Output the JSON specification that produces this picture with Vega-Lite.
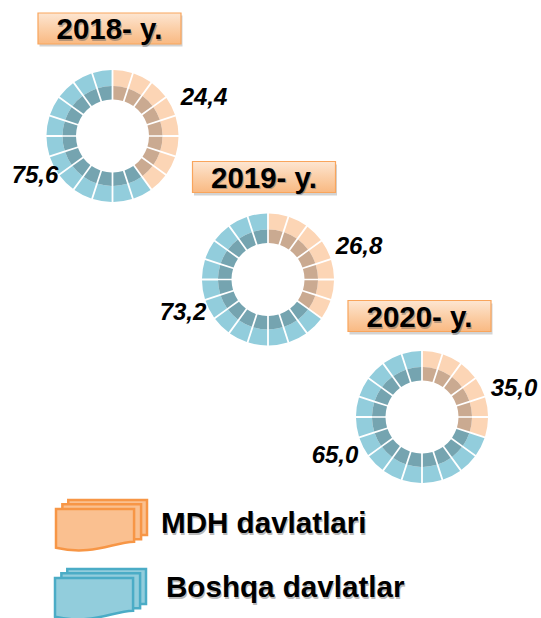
{"$schema":"https://vega.github.io/schema/vega-lite/v6.json","width":541,"height":618,"autosize":{"type":"fit","contains":"padding"},"padding":0,"background":"white","config":{"view":{"stroke":null}},"datasets":{"segments":[{"year":2018,"group":"MDH","seg":0,"segEnd":1},{"year":2018,"group":"MDH","seg":1,"segEnd":2},{"year":2018,"group":"MDH","seg":2,"segEnd":3},{"year":2018,"group":"MDH","seg":3,"segEnd":4},{"year":2018,"group":"MDH","seg":4,"segEnd":5},{"year":2018,"group":"MDH","seg":5,"segEnd":6},{"year":2018,"group":"MDH","seg":6,"segEnd":7},{"year":2018,"group":"MDH","seg":7,"segEnd":8},{"year":2018,"group":"Boshqa","seg":8,"segEnd":9},{"year":2018,"group":"Boshqa","seg":9,"segEnd":10},{"year":2018,"group":"Boshqa","seg":10,"segEnd":11},{"year":2018,"group":"Boshqa","seg":11,"segEnd":12},{"year":2018,"group":"Boshqa","seg":12,"segEnd":13},{"year":2018,"group":"Boshqa","seg":13,"segEnd":14},{"year":2018,"group":"Boshqa","seg":14,"segEnd":15},{"year":2018,"group":"Boshqa","seg":15,"segEnd":16},{"year":2018,"group":"Boshqa","seg":16,"segEnd":17},{"year":2018,"group":"Boshqa","seg":17,"segEnd":18},{"year":2018,"group":"Boshqa","seg":18,"segEnd":19},{"year":2018,"group":"Boshqa","seg":19,"segEnd":20},{"year":2019,"group":"MDH","seg":0,"segEnd":1},{"year":2019,"group":"MDH","seg":1,"segEnd":2},{"year":2019,"group":"MDH","seg":2,"segEnd":3},{"year":2019,"group":"MDH","seg":3,"segEnd":4},{"year":2019,"group":"MDH","seg":4,"segEnd":5},{"year":2019,"group":"MDH","seg":5,"segEnd":6},{"year":2019,"group":"MDH","seg":6,"segEnd":7},{"year":2019,"group":"Boshqa","seg":7,"segEnd":8},{"year":2019,"group":"Boshqa","seg":8,"segEnd":9},{"year":2019,"group":"Boshqa","seg":9,"segEnd":10},{"year":2019,"group":"Boshqa","seg":10,"segEnd":11},{"year":2019,"group":"Boshqa","seg":11,"segEnd":12},{"year":2019,"group":"Boshqa","seg":12,"segEnd":13},{"year":2019,"group":"Boshqa","seg":13,"segEnd":14},{"year":2019,"group":"Boshqa","seg":14,"segEnd":15},{"year":2019,"group":"Boshqa","seg":15,"segEnd":16},{"year":2019,"group":"Boshqa","seg":16,"segEnd":17},{"year":2019,"group":"Boshqa","seg":17,"segEnd":18},{"year":2019,"group":"Boshqa","seg":18,"segEnd":19},{"year":2019,"group":"Boshqa","seg":19,"segEnd":20},{"year":2020,"group":"MDH","seg":0,"segEnd":1},{"year":2020,"group":"MDH","seg":1,"segEnd":2},{"year":2020,"group":"MDH","seg":2,"segEnd":3},{"year":2020,"group":"MDH","seg":3,"segEnd":4},{"year":2020,"group":"MDH","seg":4,"segEnd":5},{"year":2020,"group":"MDH","seg":5,"segEnd":6},{"year":2020,"group":"Boshqa","seg":6,"segEnd":7},{"year":2020,"group":"Boshqa","seg":7,"segEnd":8},{"year":2020,"group":"Boshqa","seg":8,"segEnd":9},{"year":2020,"group":"Boshqa","seg":9,"segEnd":10},{"year":2020,"group":"Boshqa","seg":10,"segEnd":11},{"year":2020,"group":"Boshqa","seg":11,"segEnd":12},{"year":2020,"group":"Boshqa","seg":12,"segEnd":13},{"year":2020,"group":"Boshqa","seg":13,"segEnd":14},{"year":2020,"group":"Boshqa","seg":14,"segEnd":15},{"year":2020,"group":"Boshqa","seg":15,"segEnd":16},{"year":2020,"group":"Boshqa","seg":16,"segEnd":17},{"year":2020,"group":"Boshqa","seg":17,"segEnd":18},{"year":2020,"group":"Boshqa","seg":18,"segEnd":19},{"year":2020,"group":"Boshqa","seg":19,"segEnd":20}],"years":[{"year":2018,"title":"2018- y."},{"year":2019,"title":"2019- y."},{"year":2020,"title":"2020- y."}],"values":[{"year":2018,"group":"MDH","value":24.4,"label":"24,4"},{"year":2018,"group":"Boshqa","value":75.6,"label":"75,6"},{"year":2019,"group":"MDH","value":26.8,"label":"26,8"},{"year":2019,"group":"Boshqa","value":73.2,"label":"73,2"},{"year":2020,"group":"MDH","value":35.0,"label":"35,0"},{"year":2020,"group":"Boshqa","value":65.0,"label":"65,0"}],"legend":[{"group":"MDH","label":"MDH davlatlari"},{"group":"Boshqa","label":"Boshqa davlatlar"}]},"resolve":{"scale":{"x":"independent","y":"independent","color":"independent","stroke":"independent"}},"layer":[{"data":{"name":"segments"},"mark":{"type":"arc","radius":66,"radius2":50,"padAngle":0.022},"encoding":{"x":{"field":"year","type":"quantitative","axis":null,"scale":{"domain":[2018,2019,2020],"range":[112.5,268,422]}},"y":{"field":"year","type":"quantitative","axis":null,"scale":{"domain":[2018,2019,2020],"range":[136,279.5,417]}},"theta":{"field":"seg","type":"quantitative","scale":{"domain":[0,20],"range":[0,6.28319]}},"theta2":{"field":"segEnd"},"color":{"field":"group","type":"nominal","legend":null,"scale":{"domain":["MDH","Boshqa"],"range":["#FCD5B5","#92CDDC"]}}}},{"data":{"name":"segments"},"mark":{"type":"arc","radius":50,"radius2":36.5,"padAngle":0.028},"encoding":{"x":{"field":"year","type":"quantitative","axis":null,"scale":{"domain":[2018,2019,2020],"range":[112.5,268,422]}},"y":{"field":"year","type":"quantitative","axis":null,"scale":{"domain":[2018,2019,2020],"range":[136,279.5,417]}},"theta":{"field":"seg","type":"quantitative","scale":{"domain":[0,20],"range":[0,6.28319]}},"theta2":{"field":"segEnd"},"color":{"field":"group","type":"nominal","legend":null,"scale":{"domain":["MDH","Boshqa"],"range":["#CAAA91","#75A4B0"]}}}},{"data":{"name":"years"},"mark":{"type":"point","filled":true,"opacity":0.35,"size":20449,"color":"#808080","shape":"M-1,-0.217L1,-0.217L1,0.217L-1,0.217Z"},"encoding":{"x":{"field":"year","type":"quantitative","axis":null,"scale":{"domain":[2018,2019,2020],"range":[111,265.5,421]}},"y":{"field":"year","type":"quantitative","axis":null,"scale":{"domain":[2018,2019,2020],"range":[31,180,319]}}}},{"data":{"name":"years"},"mark":{"type":"point","filled":true,"opacity":1,"size":20449,"shape":"M-1,-0.217L1,-0.217L1,0.217L-1,0.217Z","stroke":"#F9A55C","strokeWidth":1.2,"fill":{"x1":0,"y1":0,"x2":0,"y2":1,"gradient":"linear","stops":[{"offset":0,"color":"#FDE6D2"},{"offset":0.5,"color":"#FBCFA8"},{"offset":1,"color":"#F9B982"}]}},"encoding":{"x":{"field":"year","type":"quantitative","axis":null,"scale":{"domain":[2018,2019,2020],"range":[109.5,264,419.5]}},"y":{"field":"year","type":"quantitative","axis":null,"scale":{"domain":[2018,2019,2020],"range":[28.5,177,316]}}}},{"data":{"name":"years"},"mark":{"type":"text","font":"Liberation Sans","fontWeight":"bold","fontSize":29.5,"color":"#555555","opacity":0.4,"align":"center","baseline":"middle","dx":1,"dy":1.5},"encoding":{"text":{"field":"title"},"x":{"field":"year","type":"quantitative","axis":null,"scale":{"domain":[2018,2019,2020],"range":[109.5,264,419.5]}},"y":{"field":"year","type":"quantitative","axis":null,"scale":{"domain":[2018,2019,2020],"range":[30,178.5,318]}}}},{"data":{"name":"years"},"mark":{"type":"text","font":"Liberation Sans","fontWeight":"bold","fontSize":29.5,"color":"#000000","align":"center","baseline":"middle"},"encoding":{"text":{"field":"title"},"x":{"field":"year","type":"quantitative","axis":null,"scale":{"domain":[2018,2019,2020],"range":[109.5,264,419.5]}},"y":{"field":"year","type":"quantitative","axis":null,"scale":{"domain":[2018,2019,2020],"range":[30,178.5,318]}}}},{"data":{"name":"values"},"transform":[{"filter":"datum.group === 'MDH'"}],"mark":{"type":"text","font":"Liberation Sans","fontWeight":"bold","fontStyle":"italic","fontSize":24,"color":"#000000","align":"center","baseline":"middle"},"encoding":{"text":{"field":"label"},"x":{"field":"year","type":"quantitative","axis":null,"scale":{"domain":[2018,2019,2020],"range":[204,359,514]}},"y":{"field":"year","type":"quantitative","axis":null,"scale":{"domain":[2018,2019,2020],"range":[98,247,389]}}}},{"data":{"name":"values"},"transform":[{"filter":"datum.group === 'Boshqa'"}],"mark":{"type":"text","font":"Liberation Sans","fontWeight":"bold","fontStyle":"italic","fontSize":24,"color":"#000000","align":"center","baseline":"middle"},"encoding":{"text":{"field":"label"},"x":{"field":"year","type":"quantitative","axis":null,"scale":{"domain":[2018,2019,2020],"range":[35,183,335]}},"y":{"field":"year","type":"quantitative","axis":null,"scale":{"domain":[2018,2019,2020],"range":[176,313,456]}}}},{"data":{"name":"legend"},"mark":{"type":"point","filled":true,"opacity":1,"size":8281,"strokeWidth":2.5,"shape":"M-0.73,-0.571L1,-0.571L1,0.2L-0.73,0.2Z"},"encoding":{"x":{"field":"group","type":"nominal","axis":null,"sort":["MDH","Boshqa"],"scale":{"type":"point","padding":0,"domain":["MDH","Boshqa"],"range":[101.5,100.5]}},"y":{"field":"group","type":"nominal","axis":null,"sort":["MDH","Boshqa"],"scale":{"type":"point","padding":0,"domain":["MDH","Boshqa"],"range":[526,595]}},"color":{"field":"group","type":"nominal","legend":null,"scale":{"domain":["MDH","Boshqa"],"range":["#FAC090","#92CDDC"]}},"stroke":{"field":"group","type":"nominal","legend":null,"scale":{"domain":["MDH","Boshqa"],"range":["#F79646","#4BACC6"]}}}},{"data":{"name":"legend"},"mark":{"type":"point","filled":true,"opacity":1,"size":8281,"strokeWidth":2.5,"shape":"M-0.86,-0.477L0.87,-0.477L0.87,0.29L-0.86,0.29Z"},"encoding":{"x":{"field":"group","type":"nominal","axis":null,"sort":["MDH","Boshqa"],"scale":{"type":"point","padding":0,"domain":["MDH","Boshqa"],"range":[101.5,100.5]}},"y":{"field":"group","type":"nominal","axis":null,"sort":["MDH","Boshqa"],"scale":{"type":"point","padding":0,"domain":["MDH","Boshqa"],"range":[526,595]}},"color":{"field":"group","type":"nominal","legend":null,"scale":{"domain":["MDH","Boshqa"],"range":["#FAC090","#92CDDC"]}},"stroke":{"field":"group","type":"nominal","legend":null,"scale":{"domain":["MDH","Boshqa"],"range":["#F79646","#4BACC6"]}}}},{"data":{"name":"legend"},"mark":{"type":"point","filled":true,"opacity":1,"size":8281,"strokeWidth":2.5,"shape":"M-1,-0.374L0.716,-0.374L0.716,0.345C0.25,0.36,-0.2,0.66,-1,0.48Z"},"encoding":{"x":{"field":"group","type":"nominal","axis":null,"sort":["MDH","Boshqa"],"scale":{"type":"point","padding":0,"domain":["MDH","Boshqa"],"range":[101.5,100.5]}},"y":{"field":"group","type":"nominal","axis":null,"sort":["MDH","Boshqa"],"scale":{"type":"point","padding":0,"domain":["MDH","Boshqa"],"range":[526,595]}},"color":{"field":"group","type":"nominal","legend":null,"scale":{"domain":["MDH","Boshqa"],"range":["#FAC090","#92CDDC"]}},"stroke":{"field":"group","type":"nominal","legend":null,"scale":{"domain":["MDH","Boshqa"],"range":["#F79646","#4BACC6"]}}}},{"data":{"name":"legend"},"mark":{"type":"text","font":"Liberation Sans","fontWeight":"bold","fontSize":29.6,"color":"#555555","opacity":0.4,"align":"left","baseline":"middle","dx":1,"dy":1.5},"encoding":{"text":{"field":"label"},"x":{"field":"group","type":"nominal","axis":null,"sort":["MDH","Boshqa"],"scale":{"type":"point","padding":0,"domain":["MDH","Boshqa"],"range":[161,166]}},"y":{"field":"group","type":"nominal","axis":null,"sort":["MDH","Boshqa"],"scale":{"type":"point","padding":0,"domain":["MDH","Boshqa"],"range":[524,588]}}}},{"data":{"name":"legend"},"mark":{"type":"text","font":"Liberation Sans","fontWeight":"bold","fontSize":29.6,"color":"#000000","align":"left","baseline":"middle"},"encoding":{"text":{"field":"label"},"x":{"field":"group","type":"nominal","axis":null,"sort":["MDH","Boshqa"],"scale":{"type":"point","padding":0,"domain":["MDH","Boshqa"],"range":[161,166]}},"y":{"field":"group","type":"nominal","axis":null,"sort":["MDH","Boshqa"],"scale":{"type":"point","padding":0,"domain":["MDH","Boshqa"],"range":[524,588]}}}}]}
